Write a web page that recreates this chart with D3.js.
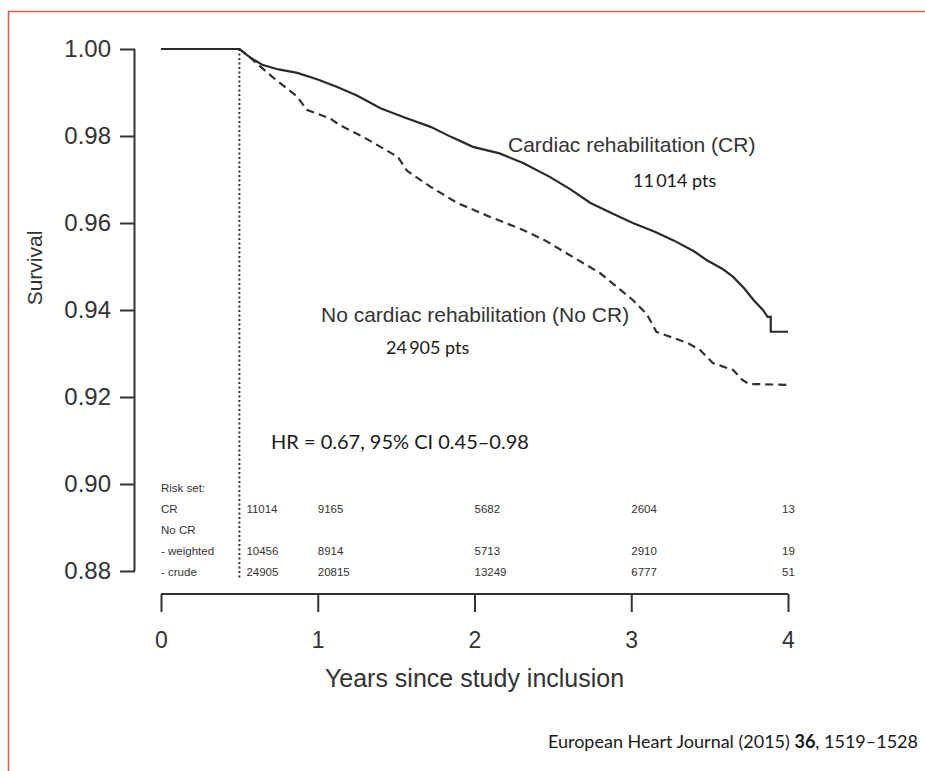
<!DOCTYPE html>
<html>
<head>
<meta charset="utf-8">
<script src="https://cdn.jsdelivr.net/npm/d3@7"></script>
<style>
  body { margin: 0; background: #fff; }
  #chart text { fill: #333; }
</style>
</head>
<body>
<div id="chart"></div>
<script>
document.addEventListener("DOMContentLoaded", function() {

  // Kaplan-Meier curves (years, survival)
  const crTimes = [0, 0.5, 0.57, 0.65, 0.75, 0.87, 1.0, 1.12, 1.25, 1.40, 1.55, 1.72, 1.85, 1.99, 2.16, 2.31, 2.48, 2.61, 2.74, 2.88, 3.01, 3.15, 3.27, 3.40, 3.48, 3.58, 3.65, 3.72, 3.78, 3.84, 3.87, 3.89, 3.89, 4.0];
  const crSurvival = [1.0, 1.0, 0.998, 0.9963, 0.9953, 0.9945, 0.993, 0.9913, 0.9893, 0.9864, 0.9843, 0.9821, 0.9798, 0.9775, 0.976, 0.9738, 0.9706, 0.9678, 0.9646, 0.9622, 0.96, 0.958, 0.956, 0.9535, 0.9515, 0.9495, 0.9476, 0.945, 0.9423, 0.94, 0.9384, 0.9384, 0.935, 0.935];

  const noCrTimes = [0.5, 0.57, 0.71, 0.87, 0.93, 1.08, 1.14, 1.29, 1.51, 1.57, 1.72, 1.89, 2.10, 2.31, 2.45, 2.59, 2.80, 3.01, 3.10, 3.16, 3.36, 3.44, 3.52, 3.65, 3.71, 3.75, 4.0];
  const noCrSurvival = [1.0, 0.998, 0.9936, 0.989, 0.986, 0.984, 0.9825, 0.9798, 0.9752, 0.972, 0.9683, 0.9646, 0.9614, 0.9584, 0.956, 0.953, 0.9485, 0.9423, 0.939, 0.935, 0.9324, 0.9308, 0.9278, 0.9262, 0.9239, 0.923, 0.9228];

  const yTicks = [0.88, 0.90, 0.92, 0.94, 0.96, 0.98, 1.00];
  const xTicks = [0, 1, 2, 3, 4];

  // risk table
  const riskTimes = [0.5, 1, 2, 3, 4];
  const riskRowLabels = ["Risk set:", "CR", "No CR", "- weighted", "- crude"];
  const riskCR = [11014, 9165, 5682, 2604, 13];
  const riskNoCRWeighted = [10456, 8914, 5713, 2910, 19];
  const riskNoCRCrude = [24905, 20815, 13249, 6777, 51];

  const landmark = 0.5;

  const width = 925, height = 771;

  const svg = d3.select("#chart")
    .append("svg")
    .attr("width", width)
    .attr("height", height);

  svg.append("rect")
    .attr("width", width)
    .attr("height", height)
    .attr("fill", "#fff");

  // red frame (left + top)
  svg.append("path")
    .attr("d", "M8.5,771 L8.5,11.5 L925,11.5")
    .attr("fill", "none")
    .attr("stroke", "#d6604d")
    .attr("stroke-width", 1.6);

  const x = d3.scaleLinear().domain([0, 4]).range([161, 788]);
  const y = d3.scaleLinear().domain([0.88, 1.00]).range([571, 49]);

  // y axis, R style
  const yAxis = svg.append("g")
    .attr("transform", "translate(135,0)")
    .call(d3.axisLeft(y).tickValues(yTicks).tickFormat(d3.format(".2f")).tickSize(15).tickPadding(9));
  yAxis.select(".domain").attr("d", "M-0.5," + y(0.88) + "V" + y(1.0)).attr("stroke", "#333").attr("stroke-width", 2);
  yAxis.selectAll(".tick line").attr("stroke", "#333").attr("stroke-width", 2);
  yAxis.selectAll(".tick text")
    .attr("font-family", "'Liberation Sans', Arial, sans-serif")
    .attr("font-size", 24)
    .attr("fill", "#333");

  const xAxis = svg.append("g")
    .attr("transform", "translate(0,594)")
    .call(d3.axisBottom(x).tickValues(xTicks).tickFormat(d3.format("d")).tickSize(18).tickPadding(20));
  xAxis.select(".domain").attr("d", "M" + x(0) + ",0H" + x(4)).attr("stroke", "#333").attr("stroke-width", 2);
  xAxis.selectAll(".tick line").attr("stroke", "#333").attr("stroke-width", 2);
  xAxis.selectAll(".tick text")
    .attr("font-family", "'Liberation Sans', Arial, sans-serif")
    .attr("font-size", 23)
    .attr("fill", "#333");

  svg.append("text")
    .attr("x", (x(0) + x(4)) / 2)
    .attr("y", 687)
    .attr("text-anchor", "middle")
    .attr("font-family", "'Liberation Sans', Arial, sans-serif")
    .attr("font-size", 25)
    .text("Years since study inclusion");

  svg.append("text")
    .attr("transform", "translate(42,268) rotate(-90)")
    .attr("text-anchor", "middle")
    .attr("font-family", "'Liberation Sans', Arial, sans-serif")
    .attr("font-size", 21)
    .text("Survival");

  // landmark line at 6 months
  svg.append("line")
    .attr("x1", x(landmark)).attr("x2", x(landmark))
    .attr("y1", y(1.0)).attr("y2", 579)
    .attr("stroke", "#333")
    .attr("stroke-width", 2)
    .attr("stroke-dasharray", "2,2.5");

  const line = d3.line()
    .x(d => x(d[0]))
    .y(d => y(d[1]));

  const crData = crTimes.map((t, i) => [t, crSurvival[i]]);
  const noCrData = noCrTimes.map((t, i) => [t, noCrSurvival[i]]);

  svg.append("path")
    .datum(noCrData)
    .attr("d", line)
    .attr("fill", "none")
    .attr("stroke", "#333")
    .attr("stroke-width", 2.2)
    .attr("stroke-dasharray", "8,5");

  svg.append("path")
    .datum(crData)
    .attr("d", line)
    .attr("fill", "none")
    .attr("stroke", "#2b2b2b")
    .attr("stroke-width", 2.2);

  // curve labels
  svg.append("text")
    .attr("x", 508).attr("y", 152)
    .attr("font-family", "'Liberation Sans', Arial, sans-serif")
    .attr("font-size", 21)
    .text("Cardiac rehabilitation (CR)");

  svg.append("text")
    .attr("x", 321).attr("y", 322)
    .attr("font-family", "'Liberation Sans', Arial, sans-serif")
    .attr("font-size", 21)
    .text("No cardiac rehabilitation (No CR)");

  svg.append("text")
    .attr("x", 633).attr("y", 187)
    .attr("font-family", "Lato, 'Open Sans', sans-serif")
    .attr("font-size", 18)
    .style("fill", "#1a1a1a")
    .text("11\u2009014 pts");

  svg.append("text")
    .attr("x", 386).attr("y", 354)
    .attr("font-family", "Lato, 'Open Sans', sans-serif")
    .attr("font-size", 18)
    .style("fill", "#1a1a1a")
    .text("24\u2009905 pts");

  svg.append("text")
    .attr("x", 271).attr("y", 449)
    .attr("font-family", "Lato, 'Open Sans', sans-serif")
    .attr("font-size", 20)
    .style("fill", "#1a1a1a")
    .text("HR = 0.67, 95% CI 0.45\u20130.98");

  // risk table
  const riskRows = [null, riskCR, null, riskNoCRWeighted, riskNoCRCrude];
  const rowY = [488, 509, 530, 551, 572];
  const risk = svg.append("g")
    .attr("font-family", "'Liberation Sans', Arial, sans-serif")
    .attr("font-size", 11.5);

  riskRowLabels.forEach((lab, i) => {
    risk.append("text")
      .attr("x", 161).attr("y", rowY[i] + 4)
      .text(lab);
    if (riskRows[i]) {
      risk.selectAll(null)
        .data(riskRows[i])
        .enter().append("text")
        .attr("x", (d, j) => x(riskTimes[j]) + (j === 0 ? 7 : (j === riskTimes.length - 1 ? -6 : 0)))
        .attr("y", rowY[i] + 4)
        .text(d => d);
    }
  });

  // source
  const cite = svg.append("text")
    .attr("x", 918).attr("y", 748)
    .attr("text-anchor", "end")
    .attr("font-family", "Lato, 'Open Sans', sans-serif")
    .attr("font-size", 18)
    .style("fill", "#1a1a1a");
  cite.append("tspan").text("European Heart Journal (2015) ");
  cite.append("tspan").attr("font-weight", "bold").text("36");
  cite.append("tspan").text(", 1519\u20131528");
});
</script>
</body>
</html>
